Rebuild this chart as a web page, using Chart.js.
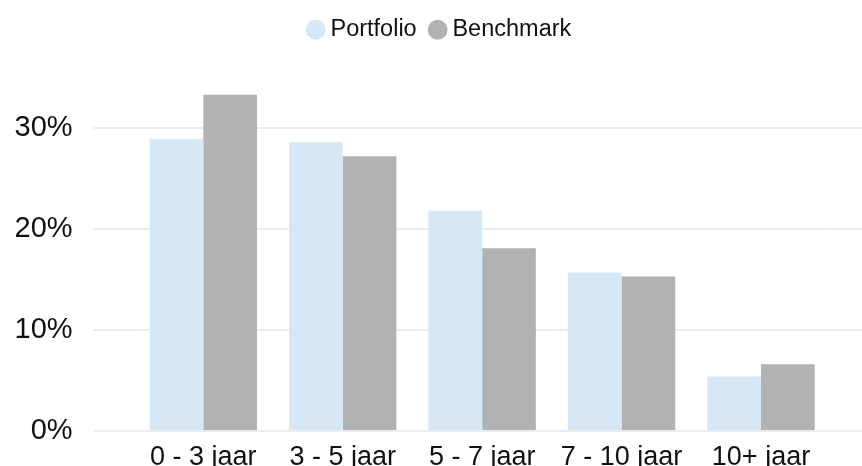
<!DOCTYPE html>
<html>
<head>
<meta charset="utf-8">
<style>
  html, body { margin: 0; padding: 0; background: #ffffff; }
  #wrap { width: 862px; height: 466px; }
</style>
<script src="https://cdn.jsdelivr.net/npm/chart.js@4/dist/chart.umd.min.js"></script>
</head>
<body>
<div id="wrap"><canvas id="c" width="862" height="466"></canvas></div>
<script>
const categories = ["0 - 3 jaar", "3 - 5 jaar", "5 - 7 jaar", "7 - 10 jaar", "10+ jaar"];
const portfolio = [28.9, 28.6, 21.8, 15.7, 5.4];
const benchmark = [33.3, 27.2, 18.1, 15.3, 6.6];
const seriesNames = ["Portfolio", "Benchmark"];
const yTicks = [0, 10, 20, 30];

const FONT = "'Liberation Sans', Arial, Helvetica, sans-serif";
const GRID = "#ececec";

const keepTicks = (axis) => { axis.ticks = axis.ticks.filter(t => yTicks.includes(t.value)); };

// extra space between the legend and the plot area, and a small horizontal nudge
const legendGap = {
  id: 'legendGap',
  beforeLayout(chart) {
    const lg = chart.legend;
    if (lg && !lg._gapPatched) {
      const fit = lg.fit;
      lg.fit = function () { fit.call(this); this.height += 26; };
      lg._gapPatched = true;
    }
  },
  afterLayout(chart) {
    const lg = chart.legend;
    if (lg) { lg.left += 4; lg.right += 4; }
  }
};

new Chart(document.getElementById('c'), {
  type: 'bar',
  data: {
    labels: categories,
    datasets: [
      { label: seriesNames[0], data: portfolio, backgroundColor: '#d6e7f5', borderWidth: 0 },
      { label: seriesNames[1], data: benchmark, backgroundColor: '#b2b2b2', borderWidth: 0 }
    ]
  },
  plugins: [legendGap],
  options: {
    responsive: false,
    devicePixelRatio: 1,
    animation: false,
    categoryPercentage: 0.77,
    barPercentage: 1.0,
    layout: { padding: { left: 14, right: 0, top: 0, bottom: 0 } },
    plugins: {
      tooltip: { enabled: false },
      legend: {
        position: 'top',
        labels: {
          usePointStyle: true,
          pointStyle: 'circle',
          boxWidth: 6,
          boxHeight: 14,
          padding: 18,
          color: '#111111',
          font: { family: FONT, size: 23.5 }
        }
      }
    },
    scales: {
      x: {
        grid: { display: false, drawTicks: false },
        border: { display: false },
        ticks: { color: '#111111', padding: 10, font: { family: FONT, size: 27 } },
        afterFit: (s) => { s.height = 35; }
      },
      y: {
        min: 0, max: 35,
        position: 'left',
        border: { display: false },
        grid: { color: GRID, lineWidth: 2, drawTicks: true, tickLength: 40 },
        ticks: {
          stepSize: 10, padding: 21, color: '#111111',
          font: { family: FONT, size: 29 },
          callback: (v) => v + '%'
        },
        afterBuildTicks: keepTicks,
        afterFit: (s) => { s.width = 119.6; s.paddingTop = 0; s.paddingBottom = 0; }
      },
      y2: {
        min: 0, max: 35,
        position: 'right',
        border: { display: false },
        grid: { color: GRID, lineWidth: 2, drawOnChartArea: false, drawTicks: true, tickLength: 32 },
        ticks: { display: false, stepSize: 10 },
        afterBuildTicks: keepTicks,
        afterFit: (s) => { s.width = 31.3; }
      }
    }
  }
});
</script>
</body>
</html>
